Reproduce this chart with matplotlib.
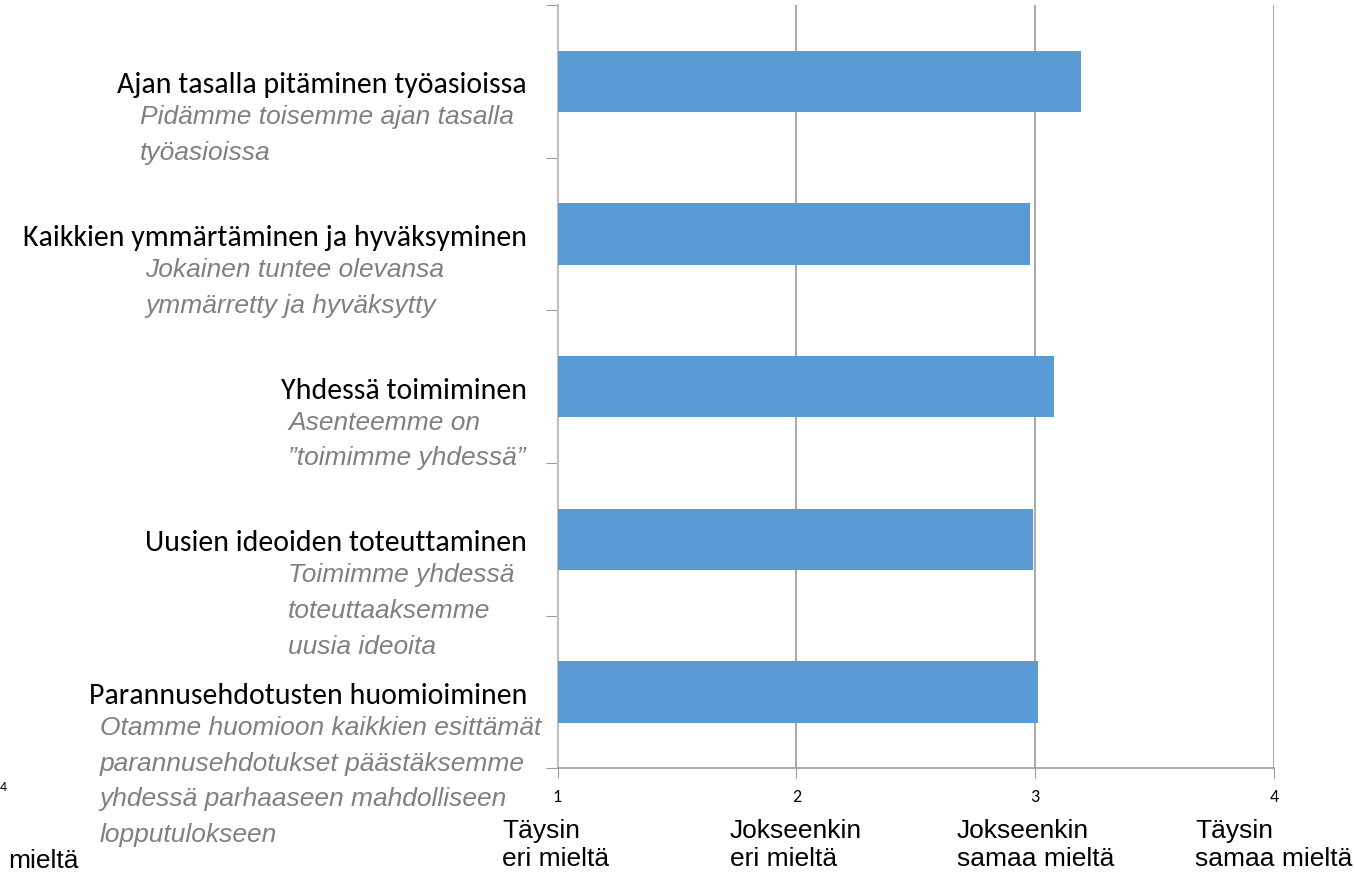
import matplotlib
matplotlib.use("Agg")
import matplotlib.pyplot as plt
from matplotlib.transforms import blended_transform_factory, offset_copy

# ---- data ----
titles = [
    "Ajan tasalla pitäminen työasioissa",
    "Kaikkien ymmärtäminen ja hyväksyminen",
    "Yhdessä toimiminen",
    "Uusien ideoiden toteuttaminen",
    "Parannusehdotusten huomioiminen",
]
subtitles = [
    "Pidämme toisemme ajan tasalla\ntyöasioissa",
    "Jokainen tuntee olevansa\nymmärretty ja hyväksytty",
    "Asenteemme on\n”toimimme yhdessä”",
    "Toimimme yhdessä\ntoteuttaaksemme\nuusia ideoita",
    "Otamme huomioon kaikkien esittämät\nparannusehdotukset päästäksemme\nyhdessä parhaaseen mahdolliseen\nlopputulokseen",
]
values = [3.19, 2.98, 3.08, 2.99, 3.01]
x_ticks = [1, 2, 3, 4]
scale_labels = ["Täysin\neri mieltä", "Jokseenkin\neri mieltä",
                "Jokseenkin\nsamaa mieltä", "Täysin\nsamaa mieltä"]

# ---- style ----
W, H = 1355, 874
DPI = 100
BAR_COLOR = "#5B9BD5"
GRID_COLOR = "#9A9A9A"
SPINE_COLOR = "#BFBFBF"
SUB_COLOR = "#808080"
TITLE_FONT = ["Carlito", "Lato", "DejaVu Sans"]
ARIAL = ["Liberation Sans", "DejaVu Sans"]

fig = plt.figure(figsize=(W / DPI, H / DPI), dpi=DPI)
ax = fig.add_axes([557.5 / W, 1 - 768.3 / H, (1274 - 557.5) / W, (768.3 - 5) / H])

n = len(titles)
pos = list(range(n))
ax.barh(pos, [v - 1 for v in values], left=1, height=0.4, color=BAR_COLOR, zorder=3)

ax.set_xlim(1, 4)
ax.set_ylim(n - 0.5, -0.5)
ax.set_xticks(x_ticks)
ax.set_xticklabels([str(t) for t in x_ticks])
for lbl in ax.get_xticklabels():
    lbl.set_fontfamily(TITLE_FONT)
    lbl.set_fontsize(13)
ax.set_yticks([i - 0.5 for i in range(n + 1)])
ax.set_yticklabels([])
ax.tick_params(axis="x", direction="out", length=7, color=GRID_COLOR, pad=8)
ax.tick_params(axis="y", direction="out", length=9, color=GRID_COLOR)
ax.grid(axis="x", color=GRID_COLOR, linewidth=1.2, zorder=0)
for s in ["top", "right"]:
    ax.spines[s].set_visible(False)
ax.spines["left"].set_color(SPINE_COLOR)
ax.spines["left"].set_linewidth(1.5)
ax.spines["bottom"].set_color(GRID_COLOR)
ax.spines["bottom"].set_linewidth(1.2)

# category labels
trans = blended_transform_factory(fig.transFigure, ax.transData)
sub_x = [140, 145, 288, 288, 100]
for i, (t, s) in enumerate(zip(titles, subtitles)):
    tt = offset_copy(trans, fig=fig, x=0, y=-12, units="dots")
    ax.text(527 / W, i, t, transform=tt, ha="right", va="baseline",
            fontsize=21.5, family=TITLE_FONT, color="black")
    for k, line in enumerate(s.split("\n")):
        st = offset_copy(trans, fig=fig, x=0, y=-(43 + 35.7 * k), units="dots")
        ax.text(sub_x[i] / W, i, line, transform=st, ha="left", va="baseline",
                fontsize=19, family=ARIAL, style="italic", color=SUB_COLOR)

# scale labels under the axis
lab_x = [502, 730, 957, 1195]
for x, lab in zip(lab_x, scale_labels):
    fig.text(x / W, 1 - 819 / H, lab, ha="left", va="top", fontsize=19,
             family=ARIAL, color="black", linespacing=1.2)

# remnants at the left edge
fig.text(0 / W, 1 - 787 / H, "4", ha="left", va="center", fontsize=10,
         family=TITLE_FONT, color="black")
fig.text(8 / W, 1 - 868 / H, "mieltä", ha="left", va="baseline", fontsize=19,
         family=ARIAL, color="black")

fig.savefig("out.png", dpi=DPI)
